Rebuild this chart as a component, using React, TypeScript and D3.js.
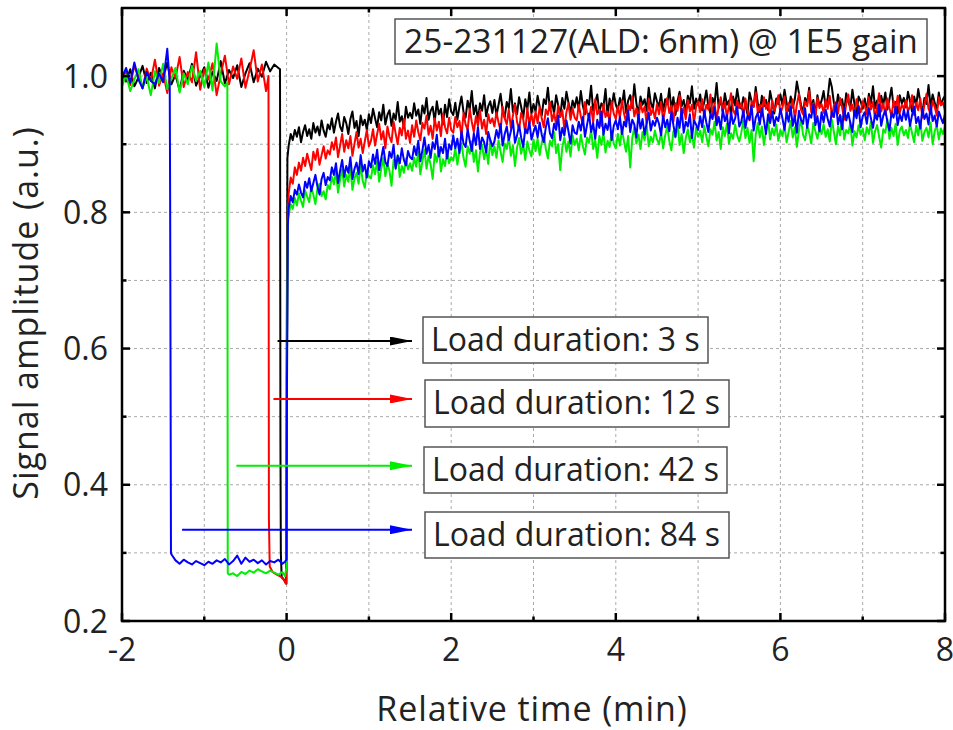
import React from 'react';
import * as d3 from 'd3';

// ---------- data ----------
const X_TICKS_MAJOR = [-2, 0, 2, 4, 6, 8];
const X_TICKS_MINOR = [-1, 1, 3, 5, 7];
const Y_TICKS_MAJOR = [0.2, 0.4, 0.6, 0.8, 1.0];
const Y_TICKS_MINOR = [0.3, 0.5, 0.7, 0.9];
const X_GRID = [-1, 0, 1, 2, 3, 4, 5, 6, 7];
const Y_GRID = [0.3, 0.4, 0.5, 0.6, 0.7, 0.8, 0.9, 1.0];

const PRE_STEP = 0.05; // min
const RECOVERY_STEP = 0.025; // min
const PRE_START = -2.0;
const RECOVERY_START = 0.025;

const TITLE = '25-231127(ALD: 6nm) @ 1E5 gain';
const X_LABEL = 'Relative time (min)';
const Y_LABEL = 'Signal amplitude (a.u.)';

const seriesNames = ['Load duration: 3 s', 'Load duration: 12 s', 'Load duration: 42 s', 'Load duration: 84 s'];
const seriesColors = ['#000000', '#ff0000', '#00ee00', '#0000ff'];
const arrowStartT = [-0.11, -0.16, -0.61, -1.27];
const arrowY = [0.611, 0.526, 0.428, 0.334];

// Black: 3 s
const blackPre = [1.003, 0.992, 1.010, 0.985, 0.998, 1.015, 0.990, 1.005, 0.982, 1.012,
  0.996, 1.020, 0.988, 1.002, 0.979, 1.008, 0.994, 1.018, 0.986, 1.000,
  1.013, 0.983, 1.006, 0.993, 1.022, 0.989, 1.009, 0.997, 1.016, 0.984,
  1.004, 1.019, 0.991, 1.011, 0.999, 1.021, 1.007, 1.017, 1.012];
const blackEdge: [number, number][] = [[-0.08, 1.01], [-0.075, 0.47], [-0.07, 0.30], [-0.06, 0.265], [-0.04, 0.262], [-0.02, 0.258], [-0.005, 0.255], [0.0, 0.55], [0.01, 0.88]];
const blackRecovery = [
  0.898, 0.915, 0.906, 0.921, 0.911, 0.925, 0.903, 0.918, 0.928, 0.912, 0.922, 0.908, 0.931, 0.917, 0.926, 0.913, 0.935, 0.920, 0.911, 0.929,
  0.922, 0.938, 0.917, 0.933, 0.945, 0.926, 0.919, 0.940, 0.931, 0.915, 0.937, 0.948, 0.924, 0.934, 0.912, 0.942, 0.928, 0.936, 0.921, 0.944,
  0.931, 0.952, 0.938, 0.925, 0.947, 0.935, 0.958, 0.929, 0.943, 0.950, 0.927, 0.945, 0.936, 0.962, 0.933, 0.941, 0.924, 0.955, 0.939, 0.946,
  0.938, 0.960, 0.942, 0.951, 0.930, 0.957, 0.945, 0.968, 0.936, 0.949, 0.955, 0.933, 0.963, 0.944, 0.952, 0.929, 0.958, 0.940, 0.966, 0.948,
  0.943, 0.961, 0.936, 0.955, 0.970, 0.947, 0.939, 0.964, 0.951, 0.978, 0.944, 0.957, 0.935, 0.960, 0.949, 0.972, 0.941, 0.956, 0.963, 0.946,
  0.965, 0.942, 0.958, 0.974, 0.950, 0.939, 0.962, 0.953, 0.981, 0.947, 0.960, 0.944, 0.969, 0.955, 0.938, 0.966, 0.951, 0.976, 0.945, 0.959,
  0.948, 0.971, 0.955, 0.942, 0.966, 0.959, 0.983, 0.950, 0.963, 0.945, 0.972, 0.957, 0.940, 0.968, 0.952, 0.977, 0.961, 0.946, 0.964, 0.954,
  0.969, 0.951, 0.978, 0.956, 0.944, 0.965, 0.958, 0.986, 0.949, 0.962, 0.973, 0.946, 0.960, 0.955, 0.981, 0.942, 0.967, 0.953, 0.975, 0.958,
  0.950, 0.968, 0.957, 0.979, 0.946, 0.964, 0.972, 0.953, 0.988, 0.960, 0.944, 0.970, 0.958, 0.966, 0.949, 0.983, 0.961, 0.952, 0.975, 0.963,
  0.955, 0.974, 0.948, 0.966, 0.959, 0.982, 0.951, 0.969, 0.943, 0.963, 0.977, 0.956, 0.965, 0.947, 0.971, 0.960, 0.985, 0.952, 0.967, 0.958,
  0.973, 0.950, 0.962, 0.979, 0.955, 0.945, 0.968, 0.960, 0.990, 0.953, 0.966, 0.948, 0.975, 0.958, 0.964, 0.942, 0.970, 0.957, 0.981, 0.961,
  0.952, 0.969, 0.958, 0.944, 0.976, 0.963, 0.955, 0.984, 0.960, 0.947, 0.971, 0.956, 0.965, 0.950, 0.978, 0.962, 0.945, 0.967, 0.959, 0.973,
  0.957, 0.980, 0.961, 0.949, 0.970, 0.954, 0.966, 0.992, 0.975, 0.958, 0.946, 0.968, 0.960, 0.983, 0.952, 0.965, 0.943, 0.972, 0.956, 0.964,
  0.978, 0.955, 0.968, 0.996, 0.984, 0.961, 0.950, 0.973, 0.958, 0.966, 0.947, 0.975, 0.962, 0.954, 0.980, 0.959, 0.944, 0.970, 0.963, 0.952,
  0.967, 0.949, 0.974, 0.960, 0.985, 0.953, 0.964, 0.941, 0.971, 0.958, 0.976, 0.951, 0.966, 0.983, 0.955, 0.962, 0.945, 0.972, 0.960, 0.968,
  0.954, 0.977, 0.963, 0.948, 0.970, 0.957, 0.981, 0.962, 0.946, 0.968, 0.959, 0.987, 0.955, 0.973, 0.961, 0.950, 0.976, 0.958, 0.966, 0.971];

// Red: 12 s
const redPre = [0.995, 1.008, 0.987, 1.015, 0.999, 0.982, 1.011, 0.993, 1.024, 0.986,
  1.004, 0.975, 1.013, 0.997, 1.028, 0.984, 1.006, 0.991, 1.035, 0.980,
  1.010, 0.995, 1.019, 0.972, 1.003, 1.030, 0.988, 1.014, 0.996, 1.026,
  0.983, 1.009, 1.038, 0.992, 1.017, 0.978];
const redEdge: [number, number][] = [[-0.22, 1.0], [-0.215, 0.35], [-0.205, 0.28], [-0.17, 0.272], [-0.12, 0.268], [-0.07, 0.265], [-0.03, 0.26], [-0.01, 0.255], [0.0, 0.255], [0.005, 0.6], [0.015, 0.80]];
const redRecovery = [
  0.828, 0.851, 0.842, 0.866, 0.855, 0.873, 0.861, 0.880, 0.868, 0.886, 0.874, 0.862, 0.889, 0.877, 0.893, 0.870, 0.884, 0.897, 0.879, 0.891,
  0.885, 0.903, 0.892, 0.910, 0.881, 0.898, 0.915, 0.889, 0.906, 0.894, 0.912, 0.883, 0.901, 0.918, 0.895, 0.908, 0.887, 0.904, 0.921, 0.897,
  0.905, 0.922, 0.898, 0.915, 0.930, 0.907, 0.919, 0.894, 0.926, 0.911, 0.903, 0.933, 0.916, 0.900, 0.924, 0.913, 0.937, 0.908, 0.920, 0.902,
  0.928, 0.911, 0.935, 0.918, 0.906, 0.931, 0.923, 0.942, 0.914, 0.927, 0.908, 0.938, 0.920, 0.933, 0.912, 0.945, 0.925, 0.916, 0.939, 0.921,
  0.917, 0.940, 0.925, 0.934, 0.912, 0.946, 0.929, 0.921, 0.952, 0.933, 0.918, 0.941, 0.927, 0.949, 0.923, 0.936, 0.915, 0.944, 0.931, 0.938,
  0.926, 0.947, 0.932, 0.920, 0.955, 0.938, 0.929, 0.951, 0.924, 0.942, 0.958, 0.933, 0.921, 0.946, 0.937, 0.917, 0.953, 0.930, 0.944, 0.927,
  0.948, 0.931, 0.955, 0.938, 0.925, 0.951, 0.943, 0.962, 0.934, 0.946, 0.929, 0.957, 0.940, 0.950, 0.922, 0.947, 0.960, 0.936, 0.953, 0.939,
  0.935, 0.958, 0.941, 0.929, 0.962, 0.947, 0.938, 0.955, 0.932, 0.966, 0.944, 0.951, 0.927, 0.959, 0.940, 0.948, 0.934, 0.963, 0.945, 0.937,
  0.956, 0.939, 0.964, 0.945, 0.932, 0.958, 0.950, 0.970, 0.941, 0.953, 0.936, 0.961, 0.947, 0.955, 0.930, 0.966, 0.943, 0.952, 0.938, 0.959,
  0.944, 0.962, 0.935, 0.951, 0.968, 0.946, 0.957, 0.933, 0.960, 0.949, 0.972, 0.940, 0.954, 0.937, 0.965, 0.948, 0.958, 0.931, 0.955, 0.963,
  0.947, 0.966, 0.940, 0.958, 0.951, 0.973, 0.943, 0.960, 0.936, 0.955, 0.969, 0.948, 0.962, 0.939, 0.957, 0.975, 0.950, 0.944, 0.964, 0.953,
  0.960, 0.942, 0.967, 0.950, 0.935, 0.963, 0.955, 0.976, 0.946, 0.958, 0.941, 0.969, 0.952, 0.961, 0.938, 0.965, 0.949, 0.957, 0.972, 0.945,
  0.954, 0.970, 0.943, 0.961, 0.948, 0.966, 0.937, 0.958, 0.974, 0.951, 0.944, 0.963, 0.956, 0.978, 0.947, 0.960, 0.939, 0.968, 0.953, 0.959,
  0.946, 0.965, 0.952, 0.971, 0.940, 0.957, 0.962, 0.945, 0.968, 0.954, 0.936, 0.960, 0.973, 0.949, 0.958, 0.942, 0.966, 0.955, 0.947, 0.963,
  0.957, 0.944, 0.969, 0.951, 0.962, 0.938, 0.956, 0.975, 0.948, 0.960, 0.943, 0.967, 0.953, 0.941, 0.964, 0.950, 0.971, 0.946, 0.958, 0.952,
  0.965, 0.948, 0.956, 0.972, 0.943, 0.961, 0.950, 0.967, 0.939, 0.958, 0.974, 0.952, 0.945, 0.963, 0.955, 0.942, 0.969, 0.957, 0.961, 0.950];

// Green: 42 s
const greenPre = [0.985, 1.002, 0.978, 0.995, 1.010, 0.983, 0.999, 0.972, 1.007, 0.990,
  1.018, 0.981, 0.996, 1.012, 0.976, 1.004, 0.988, 1.015, 0.993, 1.008,
  0.984, 1.020, 0.979, 1.048, 0.992, 0.985];
const greenDrop: [number, number][] = [[-0.72, 0.99], [-0.715, 0.27]];
const GREEN_LOW_START = -0.70;
const greenLow = [0.268, 0.270, 0.266, 0.272, 0.269, 0.274, 0.271, 0.276, 0.273, 0.270, 0.274, 0.271, 0.268, 0.272];
const greenRise: [number, number][] = [[-0.02, 0.266], [0.0, 0.28], [0.005, 0.6], [0.015, 0.79]];
const greenRecovery = [
  0.796, 0.812, 0.805, 0.821, 0.810, 0.828, 0.817, 0.808, 0.832, 0.823, 0.815, 0.838, 0.826, 0.812, 0.835, 0.842, 0.824, 0.831, 0.819, 0.840,
  0.834, 0.852, 0.841, 0.860, 0.829, 0.848, 0.863, 0.838, 0.855, 0.845, 0.867, 0.833, 0.850, 0.858, 0.842, 0.870, 0.846, 0.836, 0.861, 0.853,
  0.850, 0.869, 0.856, 0.875, 0.845, 0.864, 0.880, 0.853, 0.871, 0.861, 0.839, 0.877, 0.866, 0.884, 0.852, 0.868, 0.858, 0.879, 0.863, 0.872,
  0.861, 0.880, 0.867, 0.889, 0.856, 0.875, 0.892, 0.864, 0.883, 0.870, 0.849, 0.886, 0.874, 0.896, 0.860, 0.878, 0.868, 0.890, 0.872, 0.881,
  0.876, 0.894, 0.870, 0.889, 0.901, 0.880, 0.867, 0.897, 0.886, 0.904, 0.874, 0.891, 0.860, 0.888, 0.899, 0.878, 0.893, 0.871, 0.906, 0.884,
  0.897, 0.880, 0.906, 0.889, 0.874, 0.901, 0.893, 0.912, 0.883, 0.898, 0.868, 0.895, 0.909, 0.886, 0.900, 0.877, 0.904, 0.891, 0.882, 0.907,
  0.890, 0.908, 0.884, 0.902, 0.915, 0.893, 0.879, 0.905, 0.897, 0.918, 0.887, 0.900, 0.862, 0.896, 0.910, 0.889, 0.904, 0.882, 0.913, 0.899,
  0.908, 0.891, 0.914, 0.897, 0.885, 0.910, 0.902, 0.921, 0.893, 0.906, 0.880, 0.912, 0.899, 0.917, 0.888, 0.905, 0.896, 0.919, 0.901, 0.894,
  0.915, 0.898, 0.921, 0.904, 0.889, 0.912, 0.866, 0.909, 0.925, 0.901, 0.914, 0.893, 0.918, 0.906, 0.928, 0.897, 0.911, 0.903, 0.920, 0.907,
  0.900, 0.917, 0.894, 0.913, 0.926, 0.905, 0.891, 0.919, 0.910, 0.930, 0.899, 0.915, 0.887, 0.909, 0.922, 0.903, 0.916, 0.895, 0.924, 0.911,
  0.920, 0.903, 0.927, 0.911, 0.897, 0.922, 0.914, 0.933, 0.906, 0.918, 0.893, 0.925, 0.912, 0.930, 0.901, 0.916, 0.908, 0.929, 0.913, 0.904,
  0.917, 0.935, 0.909, 0.924, 0.902, 0.921, 0.875, 0.914, 0.931, 0.910, 0.926, 0.899, 0.919, 0.936, 0.907, 0.923, 0.913, 0.929, 0.905, 0.921,
  0.912, 0.928, 0.903, 0.918, 0.934, 0.910, 0.925, 0.896, 0.920, 0.938, 0.914, 0.906, 0.927, 0.917, 0.901, 0.931, 0.919, 0.908, 0.924, 0.915,
  0.929, 0.911, 0.922, 0.904, 0.936, 0.918, 0.900, 0.926, 0.913, 0.941, 0.907, 0.921, 0.916, 0.932, 0.898, 0.919, 0.910, 0.928, 0.914, 0.923,
  0.906, 0.925, 0.915, 0.933, 0.902, 0.919, 0.928, 0.911, 0.895, 0.922, 0.917, 0.937, 0.908, 0.924, 0.912, 0.930, 0.899, 0.920, 0.926, 0.913,
  0.921, 0.909, 0.930, 0.916, 0.903, 0.927, 0.913, 0.935, 0.905, 0.918, 0.924, 0.910, 0.932, 0.900, 0.919, 0.928, 0.907, 0.923, 0.915, 0.926];

// Blue: 84 s
const bluePre = [0.998, 1.012, 0.990, 1.020, 0.995, 0.982, 1.006, 0.993, 0.988, 1.004, 0.991, 1.040];
const blueDrop: [number, number][] = [[-1.42, 0.99], [-1.415, 0.82], [-1.405, 0.30]];
const BLUE_LOW_START = -1.40;
const blueLow = [0.298, 0.289, 0.284, 0.290, 0.286, 0.283, 0.288, 0.285, 0.282, 0.287,
  0.284, 0.289, 0.286, 0.291, 0.283, 0.288, 0.296, 0.284, 0.293, 0.287,
  0.290, 0.285, 0.289, 0.283, 0.288, 0.286, 0.290, 0.284];
const blueRise: [number, number][] = [[-0.02, 0.287], [0.0, 0.29], [0.005, 0.55], [0.015, 0.78]];
const blueRecovery = [
  0.806, 0.824, 0.815, 0.833, 0.826, 0.841, 0.829, 0.822, 0.845, 0.836, 0.850, 0.831, 0.843, 0.855, 0.838, 0.826, 0.849, 0.858, 0.840, 0.852,
  0.847, 0.866, 0.855, 0.872, 0.843, 0.861, 0.877, 0.852, 0.868, 0.858, 0.881, 0.849, 0.864, 0.873, 0.856, 0.884, 0.860, 0.870, 0.851, 0.875,
  0.866, 0.885, 0.871, 0.892, 0.862, 0.879, 0.896, 0.874, 0.868, 0.889, 0.880, 0.899, 0.864, 0.883, 0.872, 0.894, 0.877, 0.869, 0.890, 0.881,
  0.878, 0.897, 0.884, 0.905, 0.875, 0.891, 0.910, 0.886, 0.899, 0.880, 0.903, 0.893, 0.914, 0.882, 0.896, 0.887, 0.908, 0.879, 0.900, 0.892,
  0.913, 0.894, 0.908, 0.887, 0.919, 0.901, 0.896, 0.922, 0.905, 0.890, 0.916, 0.899, 0.925, 0.893, 0.910, 0.903, 0.888, 0.918, 0.906, 0.897,
  0.904, 0.921, 0.909, 0.930, 0.898, 0.915, 0.926, 0.906, 0.919, 0.935, 0.902, 0.913, 0.928, 0.910, 0.896, 0.923, 0.916, 0.933, 0.907, 0.918,
  0.927, 0.910, 0.932, 0.914, 0.903, 0.925, 0.938, 0.916, 0.909, 0.930, 0.921, 0.942, 0.906, 0.924, 0.913, 0.935, 0.919, 0.901, 0.928, 0.917,
  0.915, 0.933, 0.920, 0.940, 0.911, 0.928, 0.945, 0.918, 0.931, 0.908, 0.936, 0.924, 0.948, 0.914, 0.930, 0.921, 0.939, 0.906, 0.927, 0.935,
  0.922, 0.940, 0.915, 0.933, 0.926, 0.950, 0.918, 0.936, 0.929, 0.910, 0.944, 0.923, 0.937, 0.914, 0.931, 0.946, 0.920, 0.934, 0.927, 0.939,
  0.930, 0.913, 0.942, 0.925, 0.936, 0.919, 0.948, 0.928, 0.911, 0.939, 0.924, 0.952, 0.917, 0.933, 0.926, 0.944, 0.909, 0.935, 0.929, 0.921,
  0.941, 0.925, 0.949, 0.932, 0.918, 0.945, 0.937, 0.954, 0.928, 0.940, 0.922, 0.951, 0.934, 0.943, 0.916, 0.947, 0.930, 0.938, 0.955, 0.926,
  0.933, 0.950, 0.924, 0.942, 0.936, 0.957, 0.920, 0.939, 0.946, 0.929, 0.953, 0.935, 0.915, 0.944, 0.931, 0.948, 0.927, 0.940, 0.934, 0.952,
  0.938, 0.921, 0.946, 0.933, 0.955, 0.927, 0.942, 0.917, 0.949, 0.936, 0.930, 0.953, 0.924, 0.944, 0.939, 0.958, 0.928, 0.941, 0.919, 0.947,
  0.932, 0.951, 0.937, 0.926, 0.948, 0.940, 0.960, 0.929, 0.943, 0.922, 0.954, 0.935, 0.946, 0.931, 0.918, 0.950, 0.938, 0.956, 0.925, 0.941,
  0.947, 0.930, 0.953, 0.938, 0.924, 0.945, 0.936, 0.958, 0.927, 0.942, 0.950, 0.933, 0.920, 0.946, 0.939, 0.955, 0.928, 0.944, 0.934, 0.951,
  0.936, 0.949, 0.927, 0.943, 0.955, 0.931, 0.940, 0.923, 0.952, 0.937, 0.945, 0.929, 0.957, 0.934, 0.942, 0.926, 0.948, 0.939, 0.931, 0.944];

// ---------- helpers ----------
type Pt = [number, number];
const grid = (start: number, step: number, vals: number[]): Pt[] => vals.map((v, i) => [start + i * step, v]);

const seriesPoints: Pt[][] = [
  [...grid(PRE_START, PRE_STEP, blackPre), ...blackEdge, ...grid(RECOVERY_START, RECOVERY_STEP, blackRecovery)],
  [...grid(PRE_START, PRE_STEP, redPre), ...redEdge, ...grid(RECOVERY_START, RECOVERY_STEP, redRecovery)],
  [...grid(PRE_START, PRE_STEP, greenPre), ...greenDrop, ...grid(GREEN_LOW_START, PRE_STEP, greenLow), ...greenRise, ...grid(RECOVERY_START, RECOVERY_STEP, greenRecovery)],
  [...grid(PRE_START, PRE_STEP, bluePre), ...blueDrop, ...grid(BLUE_LOW_START, PRE_STEP, blueLow), ...blueRise, ...grid(RECOVERY_START, RECOVERY_STEP, blueRecovery)],
];

const W = 953, H = 730;
const M = { left: 122, right: 945, top: 8, bottom: 621 };
const FONT = "'Open Sans', 'DejaVu Sans', sans-serif";
const TEXT = '#222';

export default function App() {
  const x = d3.scaleLinear().domain([-2, 8]).range([M.left, M.right]);
  const y = d3.scaleLinear().domain([0.2, 1.1]).range([M.bottom, M.top]);
  const line = d3.line<Pt>().x(d => x(d[0])).y(d => y(d[1]));

  const annoBoxes = [
    { x: 423, y: 317, w: 285, h: 46 },
    { x: 425, y: 380, w: 304, h: 47 },
    { x: 424, y: 447, w: 303, h: 46 },
    { x: 425, y: 512, w: 304, h: 46 },
  ];

  return (
    <svg width={W} height={H} style={{ position: 'absolute', left: 0, top: 0, background: '#fff' }} fontFamily={FONT}>
      <defs>
        <clipPath id="plot">
          <rect x={M.left} y={M.top} width={M.right - M.left} height={M.bottom - M.top} />
        </clipPath>
        {seriesColors.map((c, i) => (
          <marker key={i} id={`arr${i}`} viewBox="0 0 10 10" refX="10" refY="5" markerWidth="22" markerHeight="9" markerUnits="userSpaceOnUse" orient="auto" preserveAspectRatio="none">
            <path d="M0,0 L10,5 L0,10 Z" fill={c} />
          </marker>
        ))}
      </defs>
      <rect x={0} y={0} width={W} height={H} fill="#fff" />

      {/* grid */}
      <g stroke="#aaa" strokeWidth={1} strokeDasharray="3,3">
        {X_GRID.map(t => <line key={'gx' + t} x1={x(t)} x2={x(t)} y1={M.top} y2={M.bottom} />)}
        {Y_GRID.map(v => <line key={'gy' + v} x1={M.left} x2={M.right} y1={y(v)} y2={y(v)} />)}
      </g>

      {/* data */}
      <g clipPath="url(#plot)" fill="none" strokeWidth={2} strokeLinejoin="round">
        {seriesPoints.map((pts, i) => (
          <path key={i} d={line(pts) || ''} stroke={seriesColors[i]} />
        ))}
      </g>

      {/* frame */}
      <rect x={M.left} y={M.top} width={M.right - M.left} height={M.bottom - M.top} fill="none" stroke="#000" strokeWidth={2.5} />

      {/* ticks */}
      <g stroke="#000" strokeWidth={2.5}>
        {X_TICKS_MAJOR.map(t => <g key={'tx' + t}>
          <line x1={x(t)} x2={x(t)} y1={M.bottom} y2={M.bottom - 8} />
          <line x1={x(t)} x2={x(t)} y1={M.top} y2={M.top + 8} />
        </g>)}
        {X_TICKS_MINOR.map(t => <g key={'mx' + t}>
          <line x1={x(t)} x2={x(t)} y1={M.bottom} y2={M.bottom - 4.5} />
          <line x1={x(t)} x2={x(t)} y1={M.top} y2={M.top + 4.5} />
        </g>)}
        {Y_TICKS_MAJOR.map(v => <g key={'ty' + v}>
          <line x1={M.left} x2={M.left + 8} y1={y(v)} y2={y(v)} />
          <line x1={M.right} x2={M.right - 8} y1={y(v)} y2={y(v)} />
        </g>)}
        {Y_TICKS_MINOR.map(v => <g key={'my' + v}>
          <line x1={M.left} x2={M.left + 4.5} y1={y(v)} y2={y(v)} />
          <line x1={M.right} x2={M.right - 4.5} y1={y(v)} y2={y(v)} />
        </g>)}
      </g>

      {/* tick labels */}
      <g fill={TEXT} fontSize={32}>
        {X_TICKS_MAJOR.map(t => (
          <text key={'lx' + t} x={x(t)} y={661} textAnchor="middle">{t}</text>
        ))}
        {Y_TICKS_MAJOR.map(v => (
          <text key={'ly' + v} x={108} y={y(v)} dy="0.36em" textAnchor="end">{v.toFixed(1)}</text>
        ))}
      </g>

      {/* axis titles */}
      <text x={532} y={721} textAnchor="middle" fontSize={34} letterSpacing={0.9} fill={TEXT}>{X_LABEL}</text>
      <text transform={`translate(38, 313) rotate(-90)`} textAnchor="middle" fontSize={34} letterSpacing={1} fill={TEXT}>{Y_LABEL}</text>

      {/* title box */}
      <rect x={395} y={19} width={532} height={45} fill="#fff" stroke="#555" strokeWidth={1.5} />
      <text x={661} y={53} textAnchor="middle" fontSize={33.5} fill={TEXT}>{TITLE}</text>

      {/* annotations */}
      {seriesNames.map((name, i) => {
        const b = annoBoxes[i];
        return (
          <g key={name}>
            <line x1={x(arrowStartT[i])} x2={412} y1={y(arrowY[i])} y2={y(arrowY[i])} stroke={seriesColors[i]} strokeWidth={2} markerEnd={`url(#arr${i})`} />
            <rect x={b.x} y={b.y} width={b.w} height={b.h} fill="#fff" stroke="#555" strokeWidth={1.5} />
            <text x={b.x + 8} y={b.y + 34} fontSize={32} fill={TEXT}>{name}</text>
          </g>
        );
      })}
    </svg>
  );
}
